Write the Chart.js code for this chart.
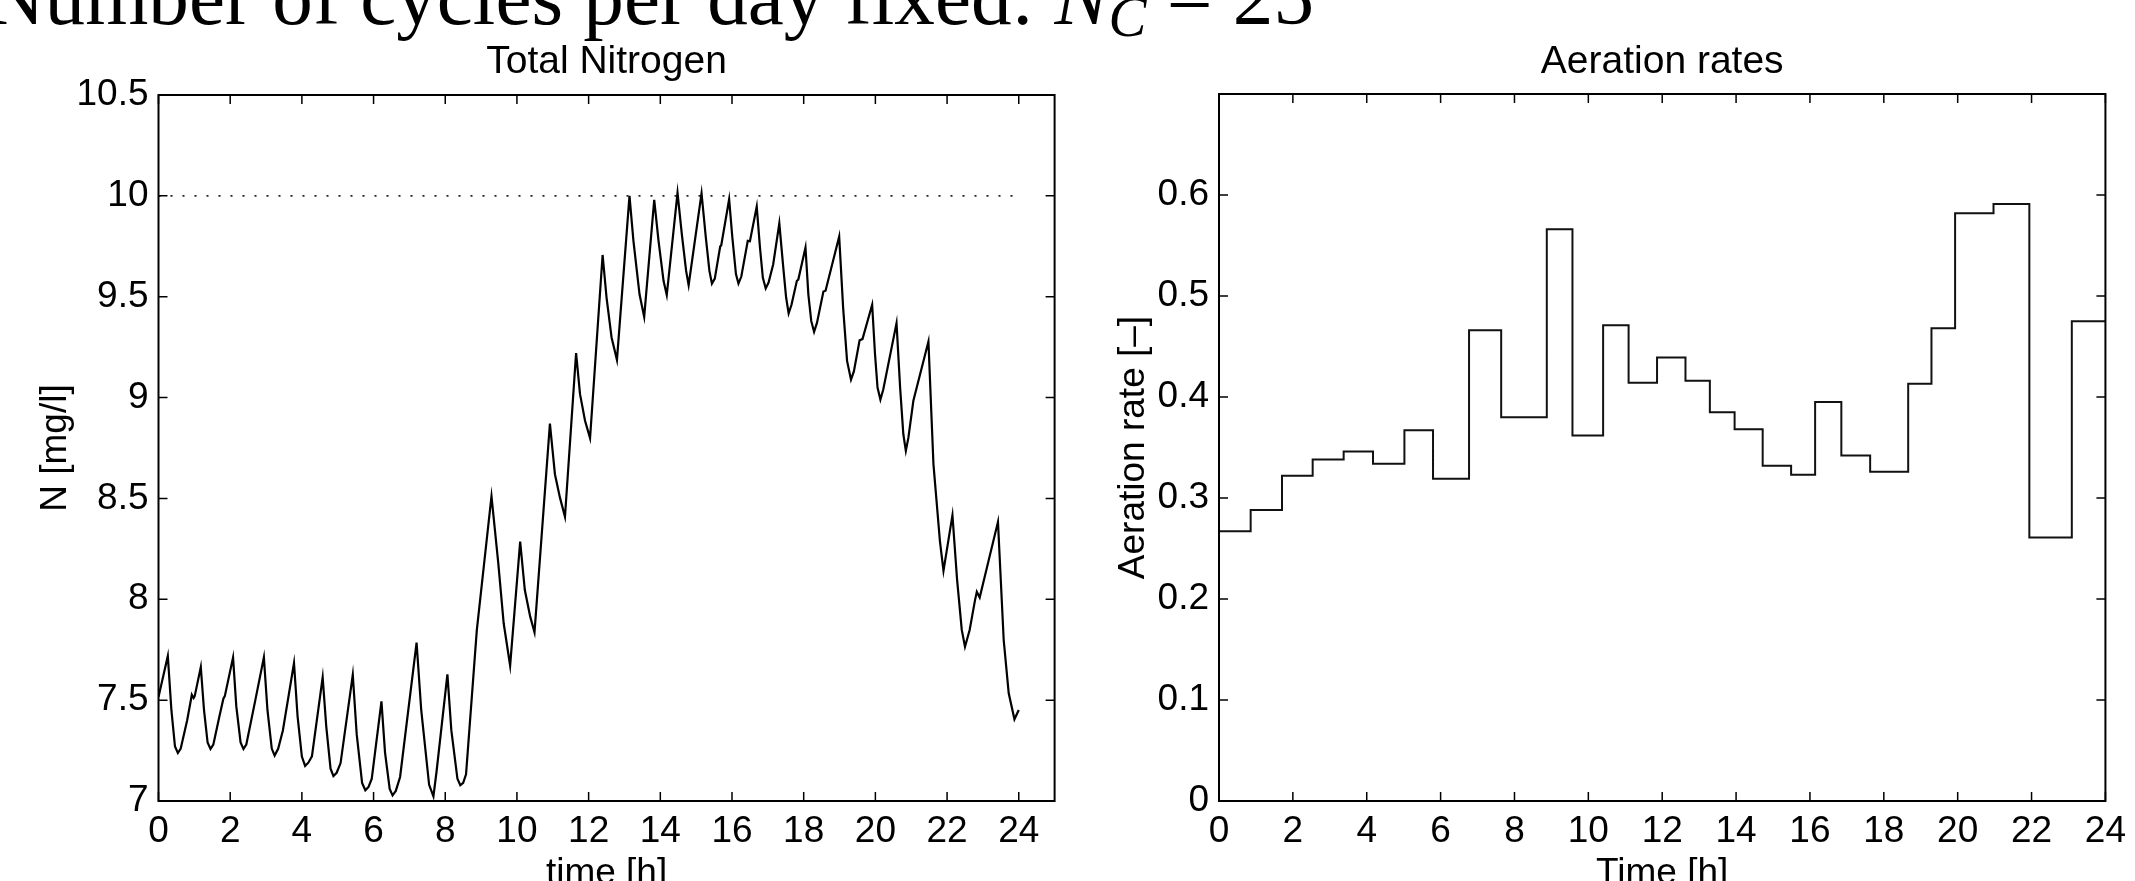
<!DOCTYPE html>
<html>
<head>
<meta charset="utf-8">
<title>Total Nitrogen / Aeration rates</title>
<script src="https://cdn.jsdelivr.net/npm/chart.js@4.4.1/dist/chart.umd.min.js"></script>
<style>
  html, body { margin: 0; padding: 0; background: #fff; overflow: hidden; }
  body { width: 2135px; height: 881px; position: relative; }
  #headline { position: absolute; left: 0; top: 0; }
  #chart-nitrogen { position: absolute; left: 0; top: 0; }
  #chart-aeration { position: absolute; left: 1100px; top: 0; }
</style>
</head>
<body>
<svg id="headline" width="2135" height="60">
  <text x="-14" y="24" font-family="Liberation Serif" font-size="80" textLength="1328" lengthAdjust="spacingAndGlyphs">Number of cycles per day fixed: <tspan font-style="italic">N</tspan><tspan font-style="italic" font-size="56" dy="12">C</tspan><tspan dy="-12"> = 25</tspan></text>
</svg>
<canvas id="chart-nitrogen" width="1100" height="930"></canvas>
<canvas id="chart-aeration" width="1035" height="930"></canvas>
<script>
// Total nitrogen trace (left panel), time in hours
const nitrogenTime = [
  0.00, 0.26, 0.36, 0.46, 0.54, 0.62, 0.80, 0.93, 0.98, 1.01,
  1.18, 1.27, 1.37, 1.45, 1.53, 1.70, 1.81, 1.85, 2.08, 2.17,
  2.29, 2.37, 2.45, 2.70, 2.94, 3.04, 3.16, 3.24, 3.34, 3.47,
  3.78, 3.88, 4.00, 4.09, 4.18, 4.28, 4.58, 4.68, 4.80, 4.88,
  4.97, 5.08, 5.42, 5.53, 5.68, 5.77, 5.86, 5.95, 6.22, 6.32,
  6.45, 6.53, 6.62, 6.74, 7.20, 7.33, 7.55, 7.67, 7.76, 8.06,
  8.17, 8.34, 8.42, 8.50, 8.58, 8.88, 9.29, 9.48, 9.63, 9.81,
  10.09, 10.22, 10.37, 10.49, 10.92, 11.06, 11.20, 11.34, 11.65, 11.76,
  11.90, 12.04, 12.39, 12.50, 12.64, 12.79, 13.14, 13.25, 13.42, 13.55,
  13.83, 13.95, 14.09, 14.18, 14.48, 14.60, 14.72, 14.79, 15.15, 15.27,
  15.37, 15.44, 15.52, 15.67, 15.70, 15.92, 16.01, 16.11, 16.18, 16.26,
  16.44, 16.50, 16.69, 16.78, 16.86, 16.94, 17.02, 17.15, 17.32, 17.43,
  17.51, 17.58, 17.66, 17.81, 17.85, 18.05, 18.13, 18.21, 18.29, 18.37,
  18.55, 18.61, 18.99, 19.10, 19.21, 19.32, 19.40, 19.56, 19.64, 19.91,
  19.99, 20.06, 20.14, 20.22, 20.59, 20.69, 20.78, 20.85, 20.92, 21.06,
  21.48, 21.62, 21.80, 21.90, 22.15, 22.28, 22.41, 22.50, 22.63, 22.78,
  22.83, 22.91, 23.42, 23.58, 23.72, 23.88, 24.00
];
const nitrogenLevel = [
  7.516, 7.719, 7.45, 7.27, 7.238, 7.26, 7.40, 7.527, 7.511, 7.52,
  7.664, 7.45, 7.29, 7.258, 7.28, 7.42, 7.507, 7.52, 7.712, 7.47,
  7.29, 7.258, 7.28, 7.499, 7.712, 7.45, 7.26, 7.225, 7.26, 7.35,
  7.684, 7.42, 7.22, 7.174, 7.19, 7.221, 7.613, 7.37, 7.16, 7.124,
  7.14, 7.188, 7.626, 7.33, 7.09, 7.053, 7.07, 7.111, 7.494, 7.24,
  7.06, 7.028, 7.05, 7.119, 7.785, 7.45, 7.08, 7.023, 7.15, 7.628,
  7.35, 7.11, 7.078, 7.09, 7.132, 7.846, 8.511, 8.178, 7.881, 7.671,
  8.286, 8.046, 7.914, 7.836, 8.871, 8.62, 8.504, 8.409, 9.22, 9.017,
  8.885, 8.799, 9.707, 9.496, 9.298, 9.187, 10.0, 9.777, 9.512, 9.40,
  9.98, 9.777, 9.579, 9.508, 10.015, 9.81, 9.628, 9.557, 10.013, 9.793,
  9.628, 9.565, 9.59, 9.749, 9.755, 9.983, 9.793, 9.612, 9.565, 9.60,
  9.777, 9.775, 9.947, 9.744, 9.595, 9.541, 9.57, 9.661, 9.864, 9.645,
  9.496, 9.417, 9.46, 9.579, 9.585, 9.744, 9.512, 9.38, 9.326, 9.37,
  9.526, 9.53, 9.798, 9.446, 9.182, 9.089, 9.13, 9.284, 9.29, 9.46,
  9.215, 9.05, 8.99, 9.04, 9.369, 9.05, 8.818, 8.736, 8.80, 8.984,
  9.278, 8.67, 8.29, 8.141, 8.417, 8.096, 7.848, 7.765, 7.848, 7.996,
  8.037, 8.009, 8.384, 7.798, 7.534, 7.405, 7.451
];
// dotted limit line
const limitTime = [0, 24];
const limitLevel = [10, 10];

// Aeration rate steps (right panel): value holds from each time to the next
const aerationTime = [
  0, 0.857, 1.706, 2.536, 3.375, 4.17, 5.02, 5.795, 6.77, 7.64,
  8.875, 9.57, 10.40, 11.09, 11.86, 12.63, 13.29, 13.96, 14.72, 15.49,
  16.14, 16.85, 17.63, 18.66, 19.29, 19.93, 20.97, 21.94, 23.09, 24
];
const aerationRate = [
  0.267, 0.288, 0.322, 0.338, 0.346, 0.334, 0.367, 0.319, 0.466, 0.380,
  0.566, 0.362, 0.471, 0.414, 0.439, 0.416, 0.385, 0.368, 0.332, 0.323,
  0.395, 0.342, 0.326, 0.413, 0.468, 0.582, 0.591, 0.261, 0.475, 0.475
];

// tick labels
const hourTicks = [0, 2, 4, 6, 8, 10, 12, 14, 16, 18, 20, 22, 24];
const nitrogenTicks = [7, 7.5, 8, 8.5, 9, 9.5, 10, 10.5];
const aerationTicks = [0, 0.1, 0.2, 0.3, 0.4, 0.5, 0.6];

Chart.defaults.font.family = "'Liberation Sans', Arial, sans-serif";
Chart.defaults.color = '#000';

const toPoints = (xs, ys) => xs.map((x, i) => ({ x, y: ys[i] }));
const useTicks = list => scale => { scale.ticks = list.map(v => ({ value: v })); };

// MATLAB style frame: full box with inward tick marks on all four sides
const boxPlugin = {
  id: 'matlabBox',
  afterDatasetsDraw(chart) {
    const { ctx, chartArea: a, scales } = chart;
    const len = 9;
    ctx.save();
    ctx.strokeStyle = '#000';
    ctx.lineWidth = 1.5;
    ctx.beginPath();
    scales.x.ticks.forEach(t => {
      const px = scales.x.getPixelForValue(t.value);
      ctx.moveTo(px, a.bottom); ctx.lineTo(px, a.bottom - len);
      ctx.moveTo(px, a.top); ctx.lineTo(px, a.top + len);
    });
    scales.y.ticks.forEach(t => {
      const py = scales.y.getPixelForValue(t.value);
      ctx.moveTo(a.left, py); ctx.lineTo(a.left + len, py);
      ctx.moveTo(a.right, py); ctx.lineTo(a.right - len, py);
    });
    ctx.stroke();
    ctx.lineWidth = 2;
    ctx.strokeRect(a.left, a.top, a.right - a.left, a.bottom - a.top);
    ctx.restore();
  }
};

function axisOptions(cfg) {
  return {
    x: {
      type: 'linear',
      min: cfg.xMin, max: cfg.xMax,
      afterBuildTicks: useTicks(hourTicks),
      afterFit: s => { s.height = cfg.xHeight; },
      grid: { display: false, drawTicks: false },
      border: { display: false },
      ticks: { autoSkip: false, maxRotation: 0, padding: 9, font: { size: 37 }, callback: v => String(v) },
      title: { display: true, text: cfg.xTitle, font: { size: 37 }, padding: { top: 0, bottom: 34 } },
    },
    y: {
      type: 'linear',
      min: cfg.yMin, max: cfg.yMax,
      afterBuildTicks: useTicks(cfg.yTicks),
      afterFit: s => { s.width = cfg.yWidth; },
      grid: { display: false, drawTicks: false },
      border: { display: false },
      ticks: { autoSkip: false, padding: 10, font: { size: 37 }, callback: v => String(v) },
      title: { display: true, text: cfg.yTitle, font: { size: 37 }, padding: { top: cfg.yTitlePad, bottom: 0 } },
    },
  };
}

function baseOptions(title, titlePad, padRight, scales) {
  return {
    responsive: false,
    animation: false,
    devicePixelRatio: 1,
    layout: { padding: { left: 0, right: padRight, top: 0, bottom: 0 } },
    plugins: {
      legend: { display: false },
      tooltip: { enabled: false },
      title: {
        display: true, text: title, fullSize: false, color: '#000',
        font: { size: 39, weight: 'normal' },
        padding: titlePad,
      },
    },
    scales,
  };
}

new Chart(document.getElementById('chart-nitrogen'), {
  type: 'line',
  data: {
    datasets: [
      {
        data: toPoints(nitrogenTime, nitrogenLevel),
        borderColor: '#000', borderWidth: 2.2, pointRadius: 0, tension: 0,
      },
      {
        data: toPoints(limitTime, limitLevel),
        borderColor: '#222', borderWidth: 1.6, borderDash: [2, 10], pointRadius: 0,
      },
    ],
  },
  options: baseOptions('Total Nitrogen', { top: 38.6, bottom: 9.6 }, 45.4, axisOptions({
    xMin: 0, xMax: 25, xHeight: 129, xTitle: 'time [h]',
    yMin: 7, yMax: 10.5, yTicks: nitrogenTicks, yWidth: 158.5,
    yTitle: 'N [mg/l]', yTitlePad: 33.8,
  })),
  plugins: [boxPlugin],
});

new Chart(document.getElementById('chart-aeration'), {
  type: 'line',
  data: {
    datasets: [{
      data: toPoints(aerationTime, aerationRate),
      stepped: 'before',
      borderColor: '#111', borderWidth: 2, pointRadius: 0,
    }],
  },
  options: baseOptions('Aeration rates', { top: 38.6, bottom: 8.6 }, 20, axisOptions({
    xMin: 0, xMax: 24, xHeight: 129, xTitle: 'Time [h]',
    yMin: 0, yMax: 0.7, yTicks: aerationTicks, yWidth: 119,
    yTitle: 'Aeration rate [–]', yTitlePad: 11.8,
  })),
  plugins: [boxPlugin],
});
</script>
</body>
</html>
